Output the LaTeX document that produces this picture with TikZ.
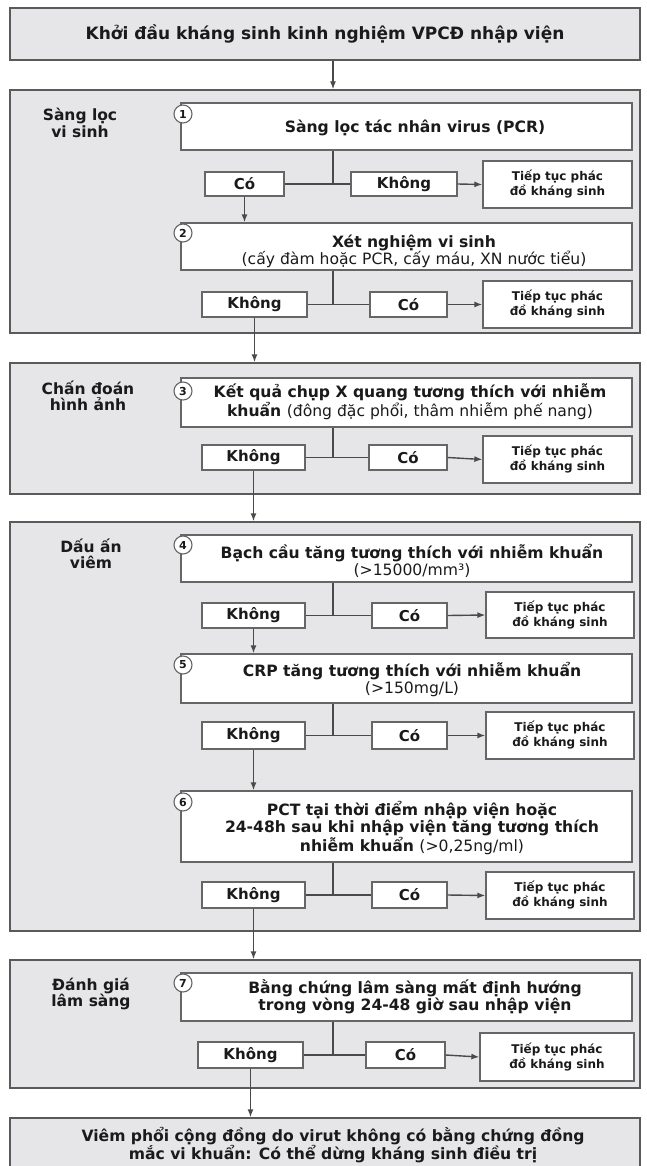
\documentclass[tikz,border=0pt]{standalone}
\usepackage{fontspec}
\setmainfont{DejaVu Sans}
\usetikzlibrary{arrows.meta}
\definecolor{panelfill}{HTML}{E6E6E8}
\definecolor{panelline}{HTML}{5A5A5A}
\definecolor{boxline}{HTML}{666666}
\definecolor{connc}{HTML}{4A4A4A}
\definecolor{txt}{HTML}{1A1A1A}
\tikzset{
 panel/.style={draw=panelline, fill=panelfill, line width=1.4pt, inner sep=0pt, text=txt, font=\fontsize{15.5}{17}\selectfont\bfseries, align=center},
 wbox/.style={draw=boxline, fill=white, line width=1.3pt, inner sep=0pt, text=txt, font=\fontsize{15}{17}\selectfont\bfseries, align=center},
 tbox/.style={wbox, font=\fontsize{12}{15}\selectfont\bfseries},
 maintext/.style={text=txt, font=\fontsize{15.6}{17}\selectfont\bfseries, align=center, inner sep=0pt},
 lbl/.style={text=txt, font=\fontsize{15.5}{16.5}\selectfont\bfseries, align=center, inner sep=0pt},
 num/.style={circle, draw=boxline, fill=white, line width=1.1pt, minimum size=18pt, inner sep=0pt, text=txt, font=\fontsize{11}{12}\selectfont\bfseries},
 conn/.style={draw=connc, line width=1.4pt},
 arr/.style={conn, -{Latex[length=8pt,width=6pt]}},
}
\newcommand\mkbox[7]{%
 \pgfmathsetmacro\mbcx{(#3+#5)/2}\pgfmathsetmacro\mbcy{(#4+#6)/2}%
 \pgfmathsetmacro\mbww{#5-#3}\pgfmathsetmacro\mbhh{#6-#4}%
 \node[#1, minimum width=\mbww pt, minimum height=\mbhh pt] (#2) at (\mbcx,\mbcy) {#7};}
\begin{document}
\begin{tikzpicture}[x=1pt,y=-1pt]
\clip (0,0) rectangle (646,1166);
\fill[white] (0,0) rectangle (646,1166);

% top
\mkbox{panel}{top}{10}{8}{640}{60}{\fontsize{17}{19}\selectfont Khởi đầu kháng sinh kinh nghiệm VPCĐ nhập viện}

% ---------- panel 1
\mkbox{panel}{p1}{10}{90}{640}{333}{}
\coordinate (j1) at (333,184);
\draw[arr] (top.south -| j1) -- (p1.north -| j1);
\node[lbl] (l1) at (80,123) {Sàng lọc\\vi sinh};
\mkbox{wbox}{b1}{181}{103}{632}{150}{}
\node[maintext] (t1) at (415,128) {Sàng lọc tác nhân virus (PCR)};
\node[num] (n1) at (183,114) {1};
\mkbox{wbox}{co1}{205}{172}{284}{196}{Có}
\mkbox{wbox}{kh1}{351}{172}{457}{196}{Không}
\mkbox{tbox}{tt1}{483}{161}{632}{208}{Tiếp tục phác\\đồ kháng sinh}
\mkbox{wbox}{b2}{181}{223}{632}{270}{}
\node[maintext] (t2) at (414,251.5) {Xét nghiệm vi sinh\\\mdseries (cấy đàm hoặc PCR, cấy máu, XN nước tiểu)};
\node[num] (n2) at (183,233) {2};
\draw[conn] (j1 |- b1.south) -- (j1);
\draw[conn] (co1.east) -- (kh1.west);
\draw[arr] (kh1.east) -- (tt1.west);
\draw[arr] (co1.south) -- (co1.south |- b2.north);
\coordinate (j2) at (333,304);
\mkbox{wbox}{kh2}{202}{292}{307}{317}{Không}
\mkbox{wbox}{co2}{370}{292}{447}{317}{Có}
\mkbox{tbox}{tt2}{483}{281}{632}{328}{Tiếp tục phác\\đồ kháng sinh}
\draw[conn] (j2 |- b2.south) -- (j2);
\draw[conn] (kh2.east) -- (co2.west);
\draw[arr] (co2.east) -- (tt2.west);

% ---------- panel 2
\mkbox{panel}{p2}{10}{363}{640}{494}{}
\draw[arr] (kh2.south) -- (kh2.south |- p2.north);
\node[lbl] (l2) at (88,396) {Chấn đoán\\hình ảnh};
\mkbox{wbox}{b3}{181}{378}{632}{427}{}
\node[maintext] (t3) at (410,401.5) {Kết quả chụp X quang tương thích với nhiễm\\khuẩn \mdseries(đông đặc phổi, thâm nhiễm phế nang)};
\node[num] (n3) at (183,391) {3};
\coordinate (j3) at (333,458);
\mkbox{wbox}{kh3}{202}{445}{305}{470}{Không}
\mkbox{wbox}{co3}{369}{445}{447}{470}{Có}
\mkbox{tbox}{tt3}{483}{436}{632}{483}{Tiếp tục phác\\đồ kháng sinh}
\draw[conn] (j3 |- b3.south) -- (j3);
\draw[conn] (kh3.east) -- (co3.west);
\draw[arr] (co3.east) -- (tt3.west);

% ---------- panel 3
\mkbox{panel}{p3}{10}{522}{640}{931}{}
\draw[arr] (kh3.south) -- (kh3.south |- p3.north);
\node[lbl] (l3) at (91,554) {Dấu ấn\\viêm};
\mkbox{wbox}{b4}{181}{535}{632}{582}{}
\node[maintext] (t4) at (412,560.5) {Bạch cầu tăng tương thích với nhiễm khuẩn\\\mdseries(>15000/mm³)};
\node[num] (n4) at (183,545) {4};
\coordinate (j4) at (333,615);
\mkbox{wbox}{kh4}{202}{603}{305}{628}{Không}
\mkbox{wbox}{co4}{372}{603}{447}{628}{Có}
\mkbox{tbox}{tt4}{486}{592}{634}{638}{Tiếp tục phác\\đồ kháng sinh}
\draw[conn] (j4 |- b4.south) -- (j4);
\draw[conn] (kh4.east) -- (co4.west);
\draw[arr] (co4.east) -- (tt4.west);
\mkbox{wbox}{b5}{181}{654}{632}{703}{}
\draw[arr] (kh4.south) -- (kh4.south |- b5.north);
\node[maintext] (t5) at (412,680) {CRP tăng tương thích với nhiễm khuẩn\\\mdseries(>150mg/L)};
\node[num] (n5) at (183,665) {5};
\coordinate (j5) at (333,735);
\mkbox{wbox}{kh5}{202}{722}{305}{749}{Không}
\mkbox{wbox}{co5}{372}{722}{447}{749}{Có}
\mkbox{tbox}{tt5}{486}{712}{634}{759}{Tiếp tục phác\\đồ kháng sinh}
\draw[conn] (j5 |- b5.south) -- (j5);
\draw[conn] (kh5.east) -- (co5.west);
\draw[arr] (co5.east) -- (tt5.west);
\mkbox{wbox}{b6}{181}{791}{632}{862}{}
\draw[arr] (kh5.south) -- (kh5.south |- b6.north);
\node[maintext] (t6) at (412,828) {PCT tại thời điểm nhập viện hoặc\\24-48h sau khi nhập viện tăng tương thích\\nhiễm khuẩn \mdseries(>0,25ng/ml)};
\node[num] (n6) at (183,802) {6};
\coordinate (j6) at (333,895);
\mkbox{wbox}{kh6}{202}{882}{305}{908}{Không}
\mkbox{wbox}{co6}{372}{882}{447}{908}{Có}
\mkbox{tbox}{tt6}{486}{872}{634}{919}{Tiếp tục phác\\đồ kháng sinh}
\draw[conn] (j6 |- b6.south) -- (j6);
\draw[conn] (kh6.east) -- (co6.west);
\draw[arr] (co6.east) -- (tt6.west);

% ---------- panel 4
\mkbox{panel}{p4}{10}{960}{640}{1088}{}
\draw[arr] (kh6.south) -- (kh6.south |- p4.north);
\node[lbl] (l4) at (91,994) {Đánh giá\\lâm sàng};
\mkbox{wbox}{b7}{181}{973}{632}{1021}{}
\node[maintext] (t7) at (415,997) {Bằng chứng lâm sàng mất định hướng\\trong vòng 24-48 giờ sau nhập viện};
\node[num] (n7) at (183,983) {7};
\coordinate (j7) at (333,1054);
\mkbox{wbox}{kh7}{198}{1042}{303}{1068}{Không}
\mkbox{wbox}{co7}{366}{1042}{445}{1068}{Có}
\mkbox{tbox}{tt7}{480}{1033}{634}{1081}{Tiếp tục phác\\đồ kháng sinh}
\draw[conn] (j7 |- b7.south) -- (j7);
\draw[conn] (kh7.east) -- (co7.west);
\draw[arr] (co7.east) -- (tt7.west);

% ---------- bottom
\mkbox{panel}{bot}{10}{1118}{640}{1190}{}
\draw[arr] (kh7.south) -- (kh7.south |- bot.north);
\node[maintext] (tb) at (333,1145) {Viêm phổi cộng đồng do virut không có bằng chứng đồng\\mắc vi khuẩn: Có thể dừng kháng sinh điều trị};
\end{tikzpicture}
\end{document}
